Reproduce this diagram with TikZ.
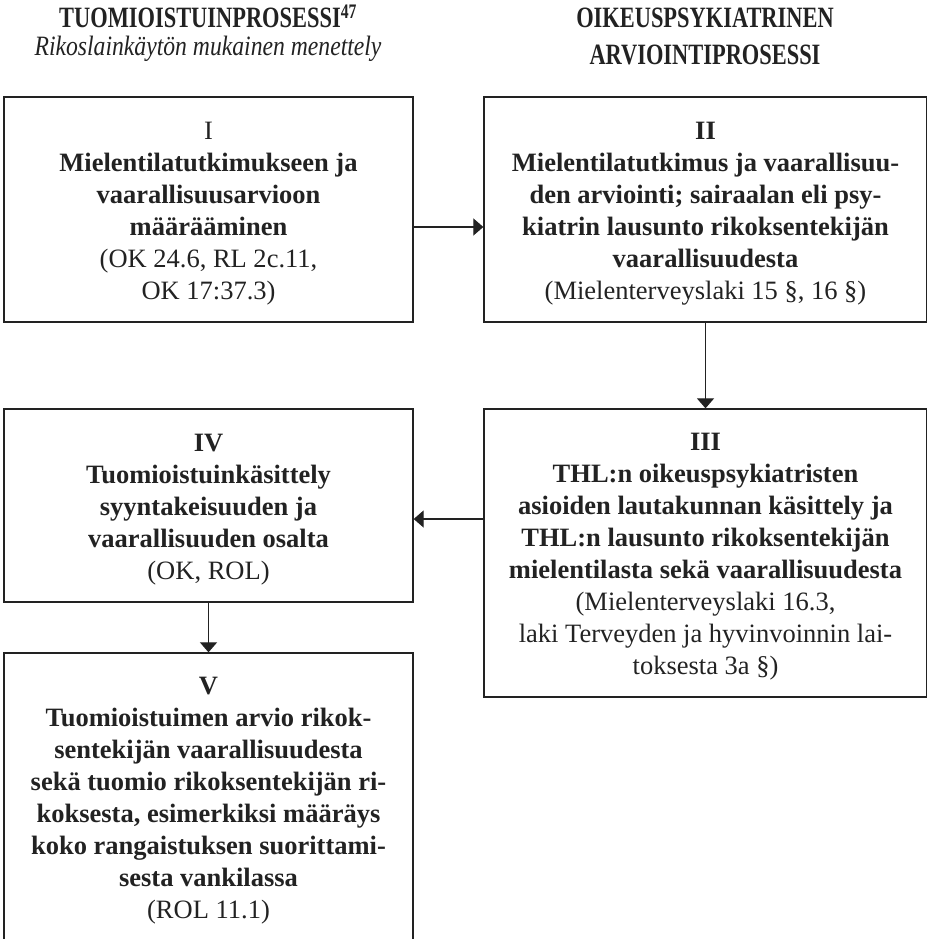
\documentclass[tikz,border=0pt]{standalone}
\usepackage{fontspec}
\usepackage{graphicx}
\setmainfont{Liberation Serif}
\usetikzlibrary{arrows.meta}
\definecolor{ink}{HTML}{222222}
\newcommand{\tstrut}{\rule{0pt}{25.5pt}}
\begin{document}
\begin{tikzpicture}[x=1pt,y=-1pt,
  box/.style={draw=ink, line width=1.3pt, rectangle, inner sep=0pt, align=center, text=ink,
              font=\fontsize{26.5}{32}\selectfont},
  arr/.style={draw=ink, line width=1.2pt, -{Triangle[length=10pt,width=17pt]}},
  head/.style={anchor=base, inner sep=0pt, text=ink, font=\fontsize{29.5}{30}\selectfont\bfseries},
  sub/.style={anchor=base, inner sep=0pt, text=ink, font=\fontsize{28}{30}\selectfont\itshape}]
\useasboundingbox (0,0) rectangle (926,939);
\node[head] (h1) at (208,28) {\scalebox{0.76}[1]{TUOMIOISTUINPROSESSI\textsuperscript{47}}};
\node[sub] (h2) at (208,56) {\scalebox{0.845}[1]{Rikoslainkäytön mukainen menettely}};
\node[head] (h3) at (705,28) {\scalebox{0.76}[1]{OIKEUSPSYKIATRINEN}};
\node[head] (h4) at (705,65) {\scalebox{0.76}[1]{ARVIOINTIPROSESSI}};

\node[box, minimum width=409pt, minimum height=225pt] (I) at (208.5,209.5)
  {\tstrut I\\
   \textbf{Mielentilatutkimukseen ja}\\
   \textbf{vaarallisuusarvioon}\\
   \textbf{määrääminen}\\
   (OK 24.6, RL 2c.11,\\
   OK 17:37.3)};
\node[box, minimum width=443pt, minimum height=225pt] (II) at (705.5,209.5)
  {\tstrut\textbf{II}\\
   \textbf{Mielentilatutkimus ja vaarallisuu-}\\
   \textbf{den arviointi; sairaalan eli psy-}\\
   \textbf{kiatrin lausunto rikoksentekijän}\\
   \textbf{vaarallisuudesta}\\
   (Mielenterveyslaki 15 §, 16 §)};
\node[box, minimum width=443pt, minimum height=288pt] (III) at (705.5,553)
  {\tstrut\textbf{III}\\
   \textbf{THL:n oikeuspsykiatristen}\\
   \textbf{asioiden lautakunnan käsittely ja}\\
   \textbf{THL:n lausunto rikoksentekijän}\\
   \textbf{mielentilasta sekä vaarallisuudesta}\\
   (Mielenterveyslaki 16.3,\\
   laki Terveyden ja hyvinvoinnin lai-\\
   toksesta 3a §)};
\node[box, minimum width=409pt, minimum height=193pt] (IV) at (208.5,505.5)
  {\tstrut\textbf{IV}\\
   \textbf{Tuomioistuinkäsittely}\\
   \textbf{syyntakeisuuden ja}\\
   \textbf{vaarallisuuden osalta}\\
   (OK, ROL)};
\node[box, minimum width=409pt, minimum height=288pt] (V) at (208.5,797)
  {\tstrut\textbf{V}\\
   \textbf{Tuomioistuimen arvio rikok-}\\
   \textbf{sentekijän vaarallisuudesta}\\
   \textbf{sekä tuomio rikoksentekijän ri-}\\
   \textbf{koksesta, esimerkiksi määräys}\\
   \textbf{koko rangaistuksen suorittami-}\\
   \textbf{sesta vankilassa}\\
   (ROL 11.1)};

\draw[arr] ([yshift=-17.5pt]I.east) -- ([yshift=-17.5pt]II.west);
\draw[arr] (II.south) -- (III.north);
\draw[arr] ([yshift=34pt]III.west) -- ([yshift=34pt]III.west -| IV.east);
\draw[arr] (IV.south) -- (V.north);
\end{tikzpicture}
\end{document}
